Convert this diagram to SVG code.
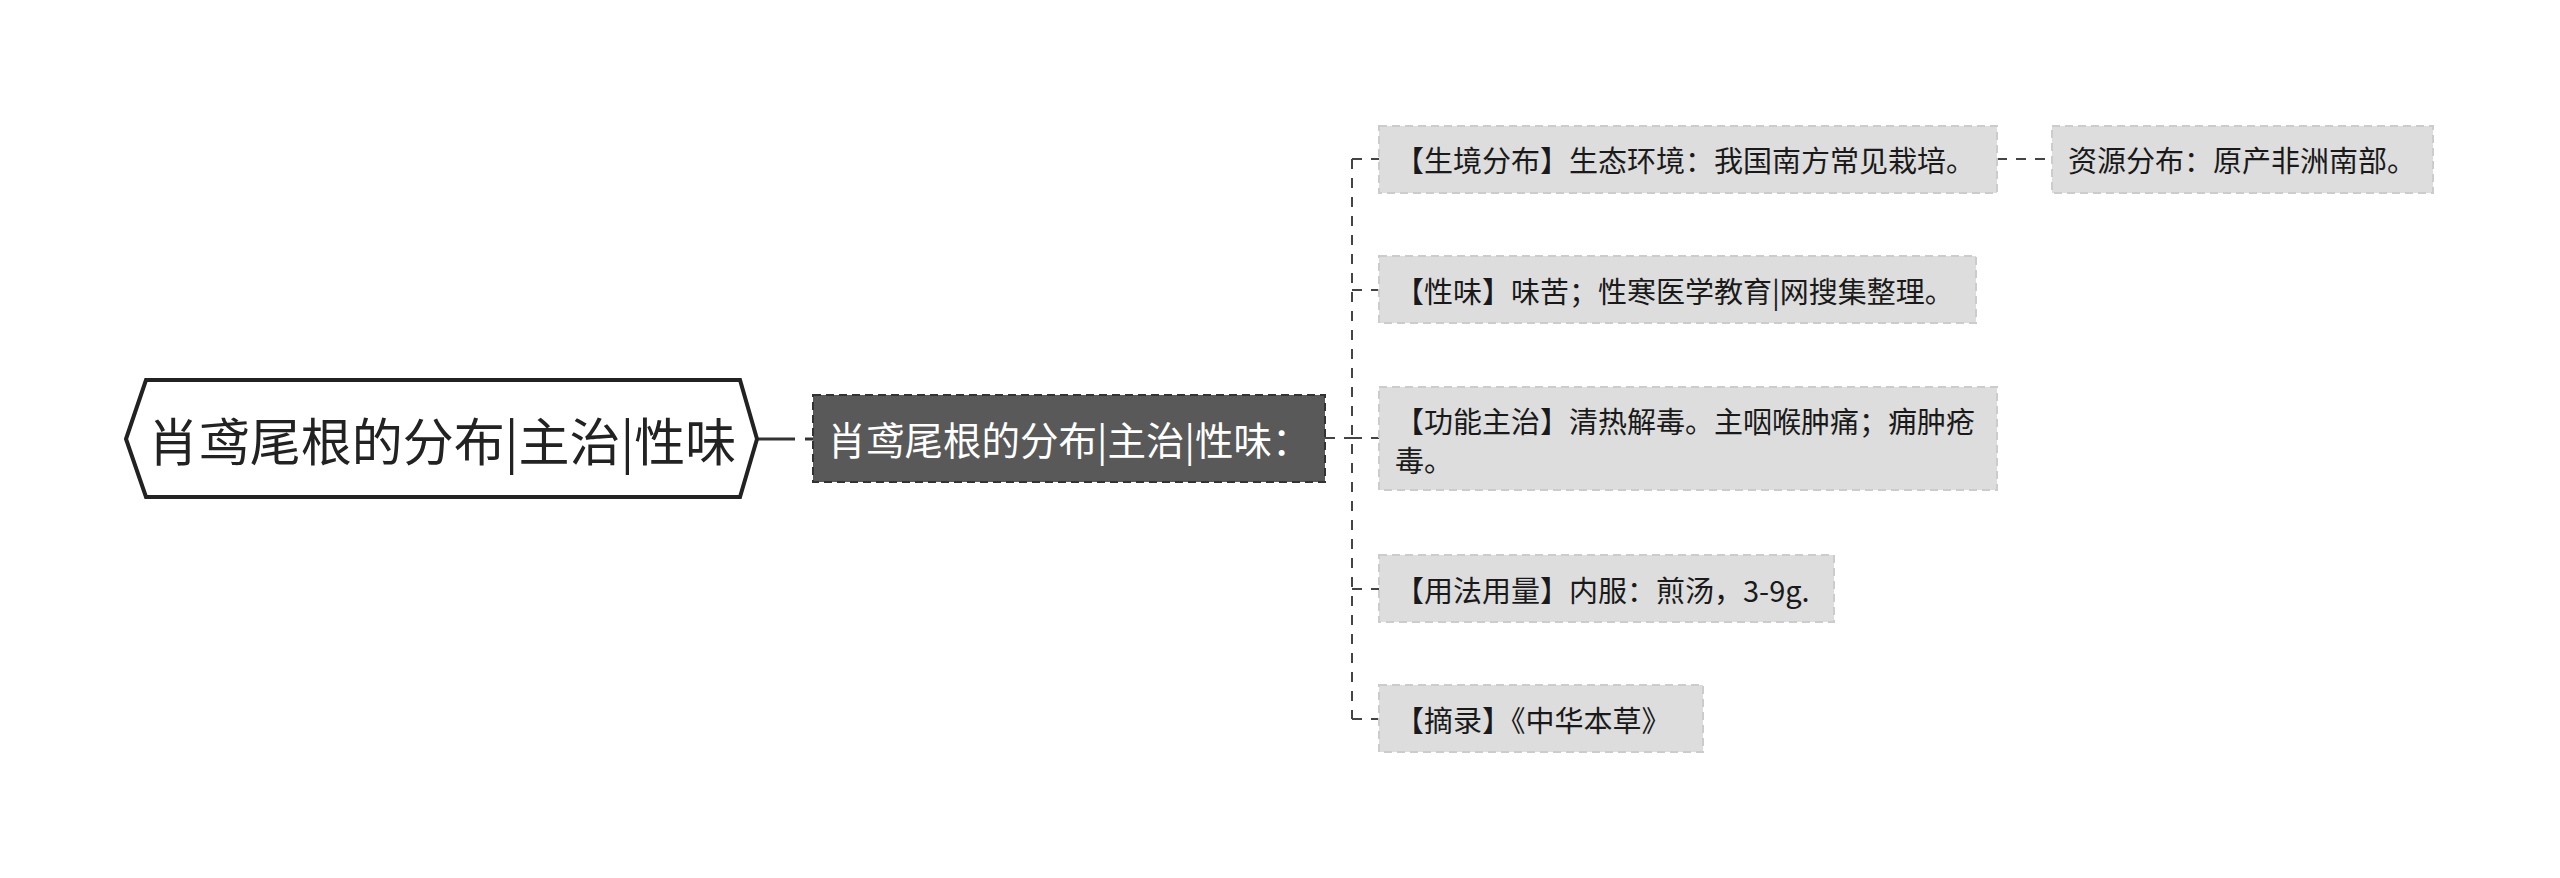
<svg xmlns="http://www.w3.org/2000/svg" width="2560" height="878" viewBox="0 0 2560 878">
<style>
text{font-family:"Noto Sans CJK SC","Microsoft YaHei",sans-serif;dominant-baseline:central;}
.root-shape{fill:#ffffff;stroke:#222222;stroke-width:4;}
.root-text{font-size:51px;fill:#222222;text-anchor:middle;}
.mid-box{fill:#595959;stroke:#333333;stroke-width:2;stroke-dasharray:8 5;}
.mid-text{font-size:38.5px;fill:#ffffff;text-anchor:middle;}
.leaf-box{fill:#dddddd;stroke:#cccccc;stroke-width:2;stroke-dasharray:8 5;}
.leaf-text{font-size:29px;fill:#1a1a1a;}
.conn{fill:none;stroke:#444444;stroke-width:2;stroke-dasharray:10 9;}
</style>
<rect width="2560" height="878" fill="#ffffff"/>
<g id="connectors">
<line x1="757" y1="439" x2="813" y2="439" stroke="#333333" stroke-width="3" stroke-dasharray="38 10 8 100"/>
<line class="conn" x1="1325" y1="438" x2="1352" y2="438" stroke-dasharray="8 12"/>
<path class="conn" d="M1352 159 L1352 719"/>
<line class="conn" x1="1352" y1="159" x2="1379" y2="159" stroke-dasharray="4 10 12"/>
<line class="conn" x1="1352" y1="290" x2="1379" y2="290" stroke-dasharray="4 10 12"/>
<line class="conn" x1="1352" y1="438" x2="1379" y2="438" stroke-dasharray="8 12"/>
<line class="conn" x1="1352" y1="589" x2="1379" y2="589" stroke-dasharray="4 10 12"/>
<line class="conn" x1="1352" y1="719" x2="1379" y2="719" stroke-dasharray="4 10 12"/>
<line class="conn" x1="1997" y1="159" x2="2052" y2="159" stroke-dasharray="13 9"/>
</g>
<g id="root">
<polygon class="root-shape" points="126,439 146,380 740,380 757,439 740,497 146,497"/>
<text class="root-text" x="442" y="439">肖鸢尾根的分布|主治|性味</text>
</g>
<g id="middle">
<rect class="mid-box" x="813" y="395" width="512" height="87"/>
<text class="mid-text" x="1069" y="438">肖鸢尾根的分布|主治|性味：</text>
</g>
<g id="leaf1">
<rect class="leaf-box" x="1379" y="126" width="618" height="67"/>
<text class="leaf-text" x="1395" y="159">【生境分布】生态环境：我国南方常见栽培。</text>
</g>
<g id="leaf1a">
<rect class="leaf-box" x="2052" y="126" width="381" height="67"/>
<text class="leaf-text" x="2068" y="159">资源分布：原产非洲南部。</text>
</g>
<g id="leaf2">
<rect class="leaf-box" x="1379" y="256" width="597" height="67"/>
<text class="leaf-text" x="1395" y="290">【性味】味苦；性寒医学教育|网搜集整理。</text>
</g>
<g id="leaf3">
<rect class="leaf-box" x="1379" y="387" width="618" height="103"/>
<text class="leaf-text" x="1395" y="420">【功能主治】清热解毒。主咽喉肿痛；痈肿疮</text>
<text class="leaf-text" x="1395" y="459">毒。</text>
</g>
<g id="leaf4">
<rect class="leaf-box" x="1379" y="555" width="455" height="67"/>
<text class="leaf-text" x="1395" y="589">【用法用量】内服：煎汤，3-9g.</text>
</g>
<g id="leaf5">
<rect class="leaf-box" x="1379" y="685" width="324" height="67"/>
<text class="leaf-text" x="1395" y="719">【摘录】《中华本草》</text>
</g>
</svg>
